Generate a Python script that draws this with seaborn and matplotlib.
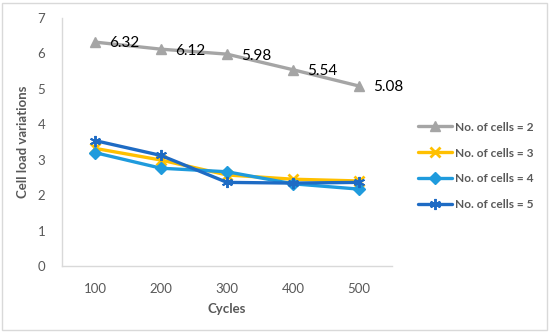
import matplotlib
matplotlib.use("Agg")
import matplotlib.pyplot as plt
import seaborn as sns
import pandas as pd
from matplotlib.patches import Rectangle

cycles = [100, 200, 300, 400, 500]
cells2 = [6.32, 6.12, 5.98, 5.54, 5.08]
cells3 = [3.32, 2.99, 2.57, 2.45, 2.40]
cells4 = [3.20, 2.76, 2.66, 2.32, 2.17]
cells5 = [3.54, 3.12, 2.36, 2.34, 2.36]
labels = ["No. of cells = 2", "No. of cells = 3", "No. of cells = 4", "No. of cells = 5"]
y_ticks = [0, 1, 2, 3, 4, 5, 6, 7]

sns.set_theme(style="white")
plt.rcParams['font.family'] = ['Lato', 'DejaVu Sans']

fig = plt.figure(figsize=(5.5, 3.32), dpi=100)
ax = fig.add_axes([62/550, 66/332, 330/550, 248/332])

series = [cells2, cells3, cells4, cells5]
colors = ["#A5A5A5", "#FFC000", "#1F9BDD", "#1E6BC4"]
markers = ["^", "x", "D", (6, 2, 0)]
msizes = [7, 7, 6, 8]
mews = [1, 2, 1, 1.4]

for vals, lab, c, m, ms, mew in zip(series, labels, colors, markers, msizes, mews):
    df = pd.DataFrame({"Cycles": cycles, "v": vals})
    sns.lineplot(data=df, x="Cycles", y="v", ax=ax, color=c, linewidth=2.4,
                 marker=m, markersize=ms, markeredgecolor=c, markerfacecolor=c,
                 markeredgewidth=mew, label=lab)

for x, v in zip(cycles, cells2):
    ax.annotate(f"{v:.2f}", (x, v), xytext=(10.5, -1), textcoords="offset points",
                ha="left", va="center", fontsize=11, color="black")

ax.set_xlim(50, 550)
ax.set_ylim(0, 7)
ax.set_xticks(cycles)
ax.set_xticklabels([str(c) for c in cycles])
ax.set_yticks(y_ticks)
ax.tick_params(axis="both", length=0, colors="#595959", labelsize=9.5)
ax.tick_params(axis="x", pad=12)
ax.tick_params(axis="y", pad=12)
for lbl in ax.get_xticklabels() + ax.get_yticklabels():
    lbl.set_color("#595959")
ax.set_xlabel("Cycles", fontsize=9.5, color="#595959", fontweight="bold", labelpad=6)
ax.set_ylabel("Cell load variations", fontsize=9.5, color="#595959", fontweight="bold", labelpad=6)
for s in ["top", "right"]:
    ax.spines[s].set_visible(False)
for s in ["left", "bottom"]:
    ax.spines[s].set_color("#D9D9D9")
    ax.spines[s].set_linewidth(1)

leg = ax.legend(loc="center left", bbox_to_anchor=(407/550, 166/332), bbox_transform=fig.transFigure,
                frameon=False, fontsize=8.6, handlelength=2.9, labelspacing=1.25, handletextpad=0.2)
for t in leg.get_texts():
    t.set_color("#595959")
    t.set_fontweight("bold")

fig.patches.append(Rectangle((2/550, 2/332), 545/550, 327/332, transform=fig.transFigure,
                             fill=False, edgecolor="#D9D9D9", linewidth=1))

fig.savefig("out.png", dpi=100)
